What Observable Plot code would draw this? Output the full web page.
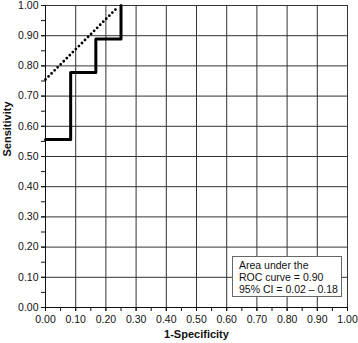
<!DOCTYPE html>
<html><head><meta charset="utf-8">
<script src="https://cdn.jsdelivr.net/npm/d3@7"></script>
<script src="https://cdn.jsdelivr.net/npm/@observablehq/plot@0.6"></script>
<style>
body{margin:0;background:#fff;font-family:"Liberation Sans",Arial,sans-serif;}
#wrap{position:relative;width:358px;height:343px;}
#legend{position:absolute;left:232px;top:256px;width:110px;height:41px;box-sizing:border-box;border:1px solid #666;background:#fff;font-size:10.5px;line-height:11.8px;padding:3px 0 0 6px;color:#111;}
</style></head><body>
<div id="wrap"></div>
<script>
const rocX = [0, 0.0833, 0.1667, 0.25];
const rocY = [0.556, 0.778, 0.889, 1.0];
const dotX = [0, 0.24];
const dotY = [0.755, 0.995];
const majorTicks = [0,0.1,0.2,0.3,0.4,0.5,0.6,0.7,0.8,0.9,1.0];
const minorTicks = d3.range(0, 21).map(i => i * 0.05);
const legendLines = ["Area under the", "ROC curve = 0.90", "95% CI = 0.02 \u2013 0.18"];

const roc = rocX.map((x, i) => ({x, y: rocY[i]}));
const dots = dotX.map((x, i) => ({x, y: dotY[i]}));

const chart = Plot.plot({
  width: 358, height: 343,
  marginLeft: 45, marginRight: 11, marginTop: 5, marginBottom: 36,
  style: {fontFamily: '"Liberation Sans", Arial, sans-serif', fontSize: "10.5px", color: "#111", background: "#fff"},
  x: {domain: [0, 1]},
  y: {domain: [0, 1]},
  marks: [
    Plot.gridX(majorTicks.slice(1), {stroke: "#333", strokeOpacity: 1}),
    Plot.gridY(majorTicks.slice(1), {stroke: "#333", strokeOpacity: 1}),
    Plot.axisX(minorTicks, {tickSize: 4, tickFormat: () => "", label: null, stroke: "#111"}),
    Plot.axisX(majorTicks, {tickSize: 4, tickPadding: 4, tickFormat: d => d.toFixed(2), label: null, stroke: "#111"}),
    Plot.axisY(minorTicks, {tickSize: 4, tickFormat: () => "", label: null, stroke: "#111"}),
    Plot.axisY(majorTicks, {tickSize: 4, tickPadding: 3, tickFormat: d => d.toFixed(2), label: null, stroke: "#111"}),
    Plot.ruleX([0], {stroke: "#111"}),
    Plot.ruleY([0], {stroke: "#111"}),
    Plot.line(dots, {x: "x", y: "y", stroke: "#000", strokeWidth: 2.8, strokeLinecap: "round", strokeDasharray: "0,4.3"}),
    Plot.line(roc, {x: "x", y: "y", curve: "step-after", stroke: "#000", strokeWidth: 3}),
    Plot.text(["1-Specificity"], {frameAnchor: "bottom", dy: 30, fontWeight: "bold", fontSize: 11}),
    Plot.text(["Sensitivity"], {frameAnchor: "left", dx: -38, rotate: -90, fontWeight: "bold", fontSize: 11})
  ]
});
const wrap = document.getElementById("wrap");
wrap.appendChild(chart);
const leg = document.createElement("div");
leg.id = "legend";
leg.innerHTML = legendLines.map(t => `<div>${t}</div>`).join("");
wrap.appendChild(leg);
</script>
</body></html>
